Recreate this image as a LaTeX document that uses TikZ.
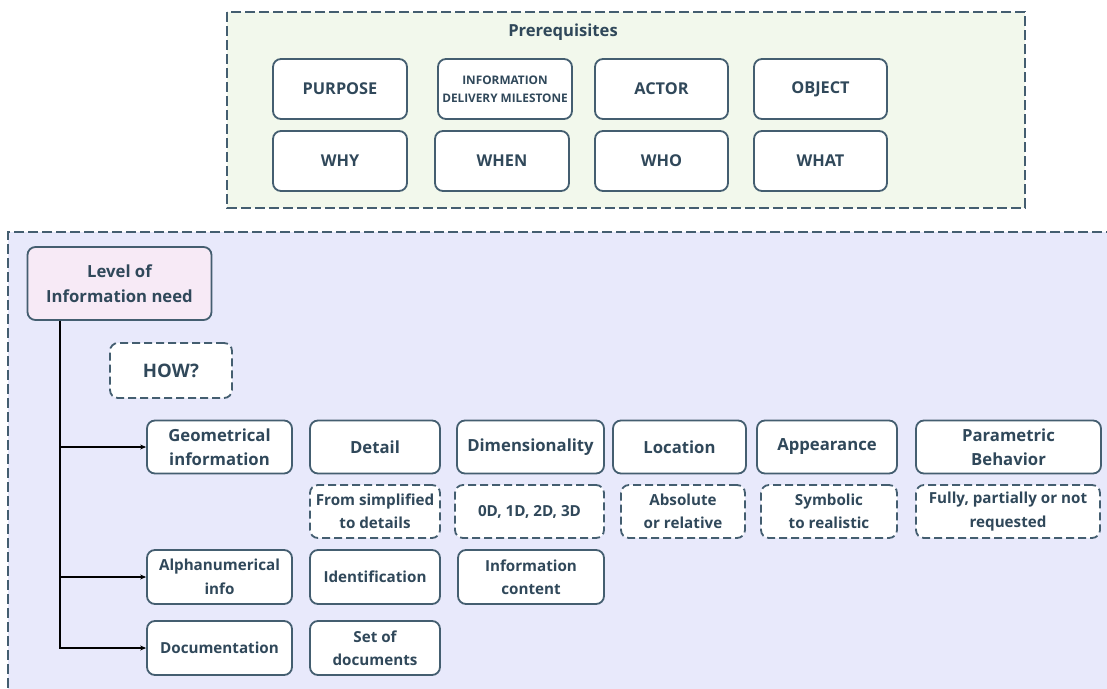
\documentclass[tikz,border=0pt]{standalone}
\usepackage{fontspec}
\setmainfont{Open Sans}
\usetikzlibrary{arrows.meta}
\definecolor{edge}{RGB}{68,94,112}
\definecolor{ink}{RGB}{48,72,90}
\definecolor{greenbg}{RGB}{242,248,236}
\definecolor{lavbg}{RGB}{232,233,251}
\definecolor{pinkbg}{RGB}{247,234,246}
\tikzset{
  x=1pt, y=-1pt,
  card/.style={draw=edge, line width=1.8pt, rounded corners=8pt, fill=white,
    text=ink, align=center, inner sep=2pt,
    font=\fontsize{16.7}{24.5}\selectfont\bfseries},
  topcard/.style={card, font=\fontsize{16.3}{19}\selectfont\bfseries},
  small/.style={font=\fontsize{15.2}{23.5}\selectfont\bfseries},
  dcard/.style={card, dash pattern=on 8pt off 4pt},
  frame/.style={draw=edge, line width=1.8pt, dash pattern=on 10pt off 4pt},
  link/.style={draw=black, line width=1.1pt, -{Stealth[length=6pt,width=5pt]}},
}
\newcommand{\crd}[6][card]{%
  \node[#1, minimum width=#4pt, minimum height=#5pt] (#2) at (#3) {#6};}
\begin{document}
\begin{tikzpicture}
\useasboundingbox (0,0) rectangle (1107,688);
\fill[white] (0,0) rectangle (1107,688);

% prerequisites panel
\draw[frame, fill=greenbg] (227,12) rectangle (1025,208);
\node[text=ink, font=\fontsize{16.6}{19}\selectfont\bfseries] (prereq) at (563,32) {Prerequisites};
\crd[topcard]{purpose}{340,89}{134}{60}{PURPOSE}
\crd[topcard, font=\fontsize{11.8}{18}\selectfont\bfseries]{idm}{505,89}{134}{60}{INFORMATION\\DELIVERY MILESTONE}
\crd[topcard]{actor}{661.5,89}{133}{60}{ACTOR}
\crd[topcard]{object}{820.5,89}{133}{60}{OBJECT}
\crd[topcard]{why}{340,161}{134}{60}{WHY}
\crd[topcard]{when}{502,161}{134}{60}{WHEN}
\crd[topcard]{who}{661.5,161}{133}{60}{WHO}
\crd[topcard]{what}{820.5,161}{133}{60}{WHAT}

% level of information need panel (runs past the page edge)
\begin{scope}
\clip (0,0) rectangle (1107,688);
\fill[lavbg] (8,232) rectangle (1130,710);
\draw[frame] (1130,232) -- (8,232) -- (8,710);
\end{scope}

\crd[card, fill=pinkbg]{level}{119.5,283.5}{184}{73}{Level of\\Information need}
\crd[dcard, font=\fontsize{18.6}{22}\selectfont\bfseries]{how}{171,370.5}{122}{55}{HOW?}

\crd{geo}{219.5,447}{145}{53}{Geometrical\\information}
\crd{detail}{375,447}{130}{53}{Detail}
\crd{dim}{530.5,447}{147}{53}{Dimensionality}
\crd{loc}{679.5,447}{133}{53}{Location}
\crd{app}{827,447}{140}{53}{Appearance}
\crd{par}{1008.5,447}{185}{53}{Parametric\\Behavior}

\crd[dcard, small]{simp}{375,511.5}{130}{53}{From simplified\\to details}
\crd[dcard, small]{dims}{529.5,511.5}{149}{53}{0D, 1D, 2D, 3D}
\crd[dcard, small]{abs}{683,511.5}{124}{53}{Absolute\\or relative}
\crd[dcard, small]{sym}{829,511.5}{136}{53}{Symbolic\\to realistic}
\crd[dcard, small]{fully}{1008,511.5}{184}{53}{Fully, partially or not\\requested}

\crd[card, small]{alpha}{219.5,577}{145}{54}{Alphanumerical\\info}
\crd[card, small]{ident}{375,577}{130}{54}{Identification}
\crd[card, small]{infoc}{531,577}{146}{54}{Information\\content}

\crd[card, small]{doc}{219.5,648}{145}{54}{Documentation}
\crd[card, small]{set}{375,648}{130}{54}{Set of\\documents}

% tree connectors
\coordinate (trunk) at (60,0);
\draw[link] (trunk |- level.south) |- (geo.west);
\draw[link] (trunk |- level.south) |- (alpha.west);
\draw[link] (trunk |- level.south) |- (doc.west);
\end{tikzpicture}
\end{document}
